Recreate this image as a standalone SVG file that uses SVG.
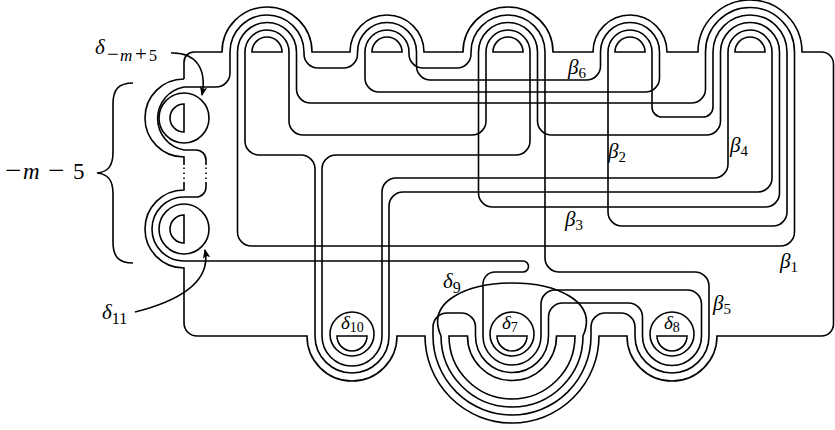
<svg xmlns="http://www.w3.org/2000/svg" width="835" height="430" viewBox="0 0 835 430">
<defs>
<style>
.ln{fill:none;stroke:#000;stroke-width:1.6}
.dot{fill:none;stroke:#000;stroke-width:1.6;stroke-dasharray:1.6 3.4}
.t{font-family:"Liberation Serif","DejaVu Serif",serif;font-size:21px;fill:#000}
.g{font-style:italic}
.s{font-size:15px;font-style:normal}
.si{font-size:17px;font-style:italic}
.sn{font-size:16px;font-style:normal}
.so{font-size:21px;font-style:normal}
.bo{font-size:29px;font-style:normal}
.c{font-size:19px}
.cs{font-size:14px;font-style:normal}
</style>
<marker id="ah" viewBox="0 0 10 10" refX="9" refY="5" markerWidth="9" markerHeight="9" markerUnits="userSpaceOnUse" orient="auto"><path d="M0,0.8 L10,5 L0,9.2 L2.5,5 Z" fill="#000"/></marker>
</defs>
<rect width="835" height="430" fill="#fff"/>

<g id="boundary">
<path class="ln" d="M184 79 V62 A10 10 0 0 1 194 52 H222 A45 45 0 0 1 312 52 H350 A37 37 0 0 1 424 52 H463 A45 45 0 0 1 553 52 H593 A37 37 0 0 1 667 52 H698 A52 52 0 0 1 802 52 H821.5 A12 12 0 0 1 833.5 64 V324 A12 12 0 0 1 821.5 336 H717 A45 45 0 0 1 627 336 H599 A87 87 0 0 1 425 336 H397 A45 45 0 0 1 307 336 H197 A13 13 0 0 1 184 323 V268 A39 39 0 0 1 184 190 V182"/>
<path class="ln" d="M184 165 V157 A39 39 0 0 1 184 79"/>
<path class="dot" d="M184 167.5 V180"/>
</g>

<g id="holes">
<path class="ln" d="M252 52 A15 15 0 0 1 282 52 Z"/>
<path class="ln" d="M372 52 A15 15 0 0 1 402 52 Z"/>
<path class="ln" d="M493 52 A15 15 0 0 1 523 52 Z"/>
<path class="ln" d="M615 52 A15 15 0 0 1 645 52 Z"/>
<path class="ln" d="M735 52 A15 15 0 0 1 765 52 Z"/>
<path class="ln" d="M184 104 A14 14 0 0 0 184 132 Z"/>
<path class="ln" d="M184 215 A14 14 0 0 0 184 243 Z"/>
<path class="ln" d="M337 336 A15 15 0 0 0 367 336 Z"/>
<path class="ln" d="M497 336 A15 15 0 0 0 527 336 Z"/>
<path class="ln" d="M657 336 A15 15 0 0 0 687 336 Z"/>
<path id="horseshoe" class="ln" d="M449 336 A63 63 0 0 0 575 336 H556.5 A44.5 44.5 0 0 1 467.5 336 Z"/>
</g>

<g id="deltas">
<circle id="d-m5" class="ln" cx="184" cy="118" r="25"/>
<circle id="d11" class="ln" cx="184" cy="229" r="25"/>
<circle id="d10" class="ln" cx="352" cy="334" r="22"/>
<circle id="d7" class="ln" cx="512" cy="334" r="22"/>
<circle id="d8" class="ln" cx="672" cy="334" r="22"/>
<path id="d9" class="ln" d="M441 336 C425 300 470 283 512 283 C554 283 599 300 583 336 A71 71 0 0 1 441 336 Z"/>
</g>

<g id="connectors">
<path id="beta1" class="ln" d="M237.5 52 V232 A14 14 0 0 0 251.5 246 H780.5 A14 14 0 0 0 794.5 232 V52 A44.5 44.5 0 0 0 705.5 52 V89 A14 14 0 0 1 691.5 103 H310.5 A14 14 0 0 1 296.5 89 V52 A29.5 29.5 0 0 0 237.5 52 Z"/>
<path id="beta2" class="ln" d="M608 52 V212 A14 14 0 0 0 622 226 H773 A14 14 0 0 0 787 212 V52 A37 37 0 0 0 713 52 V107 A10 10 0 0 1 703 117 H662 A10 10 0 0 1 652 107 V52 A22 22 0 0 0 608 52 Z"/>
<path id="beta3" class="ln" d="M478.5 52 V193 A14 14 0 0 0 492.5 207 H765.5 A14 14 0 0 0 779.5 193 V52 A29.5 29.5 0 0 0 720.5 52 V121 A14 14 0 0 1 706.5 135 H551.5 A14 14 0 0 1 537.5 121 V52 A29.5 29.5 0 0 0 478.5 52 Z"/>
<path id="beta4" class="ln" d="M245 52 V141 A14 14 0 0 0 259 155 H301 A14 14 0 0 1 315 169 V336 A37 37 0 0 0 389 336 V206 A14 14 0 0 1 403 192 H758 A14 14 0 0 0 772 178 V52 A22 22 0 0 0 728 52 V164 A14 14 0 0 1 714 178 H396 A14 14 0 0 0 382 192 V336 A30 30 0 0 1 322 336 V169 A14 14 0 0 1 336 155 H516 A14 14 0 0 0 530 141 V52 A22 22 0 0 0 486 52 V121 A14 14 0 0 1 472 135 H303 A14 14 0 0 1 289 121 V52 A22 22 0 0 0 245 52 Z"/>
<path id="beta56" class="ln" d="M206 165 V160 A10 10 0 0 0 196 150 H184 A32 32 0 0 1 184 87 H216 A14 14 0 0 0 230 73 V52 A37 37 0 0 1 304 52 V54 A14 14 0 0 0 318 68 H343.5 A14 14 0 0 0 357.5 54 V52 A29.5 29.5 0 0 1 416.5 52 V66 A14 14 0 0 0 430.5 80 H586.5 A14 14 0 0 0 600.5 66 V52 A29.5 29.5 0 0 1 659.5 52 V78 A14 14 0 0 1 645.5 92 H379 A14 14 0 0 1 365 78 V52 A22 22 0 0 1 409 52 V54 A14 14 0 0 0 423 68 H457 A14 14 0 0 0 471 54 V52 A37 37 0 0 1 545 52 V258 A14 14 0 0 0 559 272 H695 A14 14 0 0 1 709 286 V336 A37 37 0 0 1 635 336 V327 A14 14 0 0 0 621 313 H605 A14 14 0 0 0 591 327 V336 A79 79 0 0 1 433 336 V327 A14 14 0 0 1 447 313 H461.5 A14 14 0 0 1 475.5 327 V336 A36.5 36.5 0 0 0 548.5 336 V317 A14 14 0 0 1 562.5 303 H628.5 A14 14 0 0 1 642.5 317 V336 A29.5 29.5 0 0 0 701.5 336 V304 A14 14 0 0 0 687.5 290 H555 A14 14 0 0 0 541 304 V336 A29 29 0 0 1 483 336 V284 A12 12 0 0 1 495 272 H523 A5.5 5.5 0 0 0 523 261 H184 A32 32 0 0 1 184 197 H196 A10 10 0 0 0 206 187 V182"/>
<path class="dot" d="M206 167.5 V180"/>
<path id="arrow-top" class="ln" d="M171 53 C196 52 207 69 202 95" marker-end="url(#ah)"/>
<path id="arrow-bot" class="ln" d="M135 312 C182 300 211 280 205 250" marker-end="url(#ah)"/>
<path id="brace" class="ln" d="M133 83 C118 83 113 90 113 104 L113 152 C113 166 108 172 97 173 C108 174 113 180 113 194 L113 242 C113 256 118 263 133 263"/>
</g>

<g id="labels">
<text class="t" y="179" style="font-size:23px"><tspan class="bo" x="5" dy="1">−</tspan><tspan class="g" x="23" dy="-1">m</tspan><tspan class="bo" x="48" dy="1">−</tspan><tspan x="73" dy="-1">5</tspan></text>
<text class="t" y="54"><tspan class="g" x="95">δ</tspan><tspan class="so" x="107" dy="7">−</tspan><tspan class="si" x="120">m</tspan><tspan class="so" x="135">+</tspan><tspan class="sn" x="149">5</tspan></text>
<text class="t" x="102" y="319"><tspan class="g">δ</tspan><tspan class="sn" dy="5">11</tspan></text>
<text class="t" x="443" y="288"><tspan class="g">δ</tspan><tspan class="sn" dy="5">9</tspan></text>
<text class="t c" x="341" y="329"><tspan class="g">δ</tspan><tspan class="cs" dy="3">10</tspan></text>
<text class="t c" x="502" y="329"><tspan class="g">δ</tspan><tspan class="cs" dy="3">7</tspan></text>
<text class="t c" x="664" y="329"><tspan class="g">δ</tspan><tspan class="cs" dy="3">8</tspan></text>
<text class="t" x="780" y="268"><tspan class="g">β</tspan><tspan class="s" dy="4">1</tspan></text>
<text class="t" x="608" y="158"><tspan class="g">β</tspan><tspan class="s" dy="4">2</tspan></text>
<text class="t" x="565" y="226"><tspan class="g">β</tspan><tspan class="s" dy="4">3</tspan></text>
<text class="t" x="730" y="152"><tspan class="g">β</tspan><tspan class="s" dy="4">4</tspan></text>
<text class="t" x="713" y="310"><tspan class="g">β</tspan><tspan class="s" dy="4">5</tspan></text>
<text class="t" x="568" y="74"><tspan class="g">β</tspan><tspan class="s" dy="4">6</tspan></text>
</g>
</svg>
